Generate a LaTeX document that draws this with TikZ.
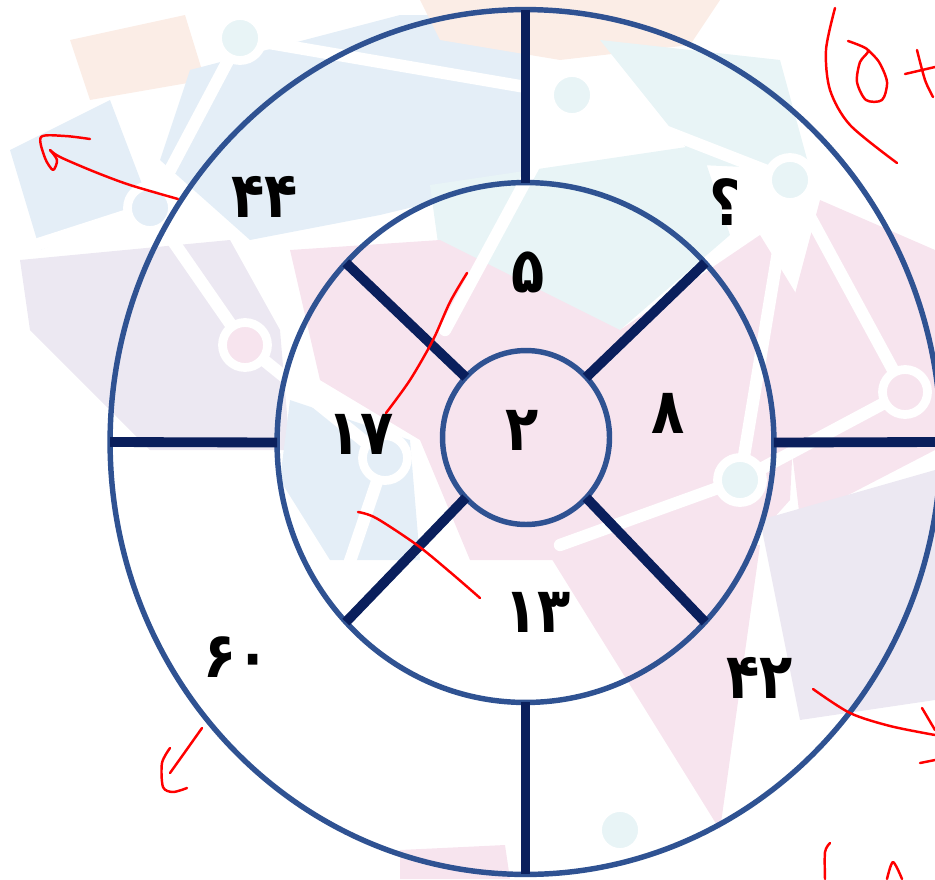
\documentclass[tikz,border=0pt]{standalone}
\usepackage{fontspec}
\newfontfamily\numfont[Script=Arabic]{DejaVu Sans}
\usetikzlibrary{shapes.geometric}
\definecolor{ringblue}{HTML}{2F5292}
\definecolor{spokenavy}{HTML}{0A1F5C}
\definecolor{wmblue}{HTML}{E4EEF7}
\definecolor{wmpink}{HTML}{F7E4EE}
\definecolor{wmlilac}{HTML}{ECE8F2}
\definecolor{wmcyan}{HTML}{E8F4F6}
\definecolor{wmpeach}{HTML}{FBEDE6}
\newcommand\narrow[1]{\scalebox{0.86}[1]{#1}}

\begin{document}
\begin{tikzpicture}[x=0.02cm, y=-0.02cm,
    ring/.style={ellipse, draw=ringblue, line width=3.1pt, inner sep=0pt, outer sep=0pt},
    spoke/.style={spokenavy, line width=5.6pt},
    digit/.style={font=\numfont\bfseries\fontsize{36}{36}\selectfont},
    pen/.style={red, line width=1.4pt, line cap=round, line join=round},
    gap/.style={white, line width=7pt, line cap=round},
    hub/.style={circle, fill=#1, draw=white, line width=5pt, minimum size=0.9cm, inner sep=0pt}]
    \useasboundingbox (0,0) rectangle (935,879);
    \clip (0,0) rectangle (935,879);

    % Faint logo behind the puzzle
    \fill[wmpeach] (70,40) -- (185,15) -- (205,80) -- (90,100) -- cycle;
    \fill[wmblue] (10,150) -- (110,100) -- (150,205) -- (40,250) -- cycle;
    \fill[wmblue] (190,70) -- (400,15) -- (525,15) -- (525,180) -- (380,215) -- (250,240) -- (160,160) -- cycle;
    \fill[wmpeach] (420,0) -- (720,0) -- (690,45) -- (560,60) -- (440,40) -- cycle;
    \fill[wmcyan] (600,40) -- (780,60) -- (810,170) -- (700,165) -- cycle;
    \fill[wmcyan] (430,185) -- (700,145) -- (730,235) -- (620,330) -- (450,330) -- cycle;
    \fill[wmlilac] (20,260) -- (230,240) -- (280,330) -- (290,450) -- (150,450) -- (30,330) -- cycle;
    \fill[wmpink] (290,250) -- (440,240) -- (620,330) -- (760,235) -- (800,300) -- (790,500) -- (700,600) -- (560,560) -- (470,560) -- (420,440) -- (320,380) -- cycle;
    \fill[wmpink] (820,200) -- (935,250) -- (935,450) -- (800,520) -- (780,350) -- cycle;
    \fill[wmblue] (290,400) -- (410,440) -- (420,560) -- (330,560) -- (280,480) -- cycle;
    \fill[wmpink] (540,540) -- (760,545) -- (720,830) -- cycle;
    \fill[wmlilac] (760,520) -- (935,470) -- (935,700) -- (800,720) -- cycle;
    \fill[wmpink] (400,850) -- (505,845) -- (510,879) -- (400,879) -- cycle;
    \draw[gap] (240,38) -- (150,208) -- (245,345) -- (385,458) -- (330,620);
    \draw[gap] (240,38) -- (572,95) -- (790,180) -- (905,392) -- (740,480) -- (560,545);
    \draw[gap] (790,180) -- (740,480);
    \draw[gap] (572,95) -- (445,330);
    \draw[gap] (150,208) -- (20,250);
    \node[hub=wmcyan] (h1) at (240,38) {};
    \node[hub=wmblue] (h2) at (150,208) {};
    \node[hub=wmpink] (h3) at (245,345) {};
    \node[hub=wmcyan] (h4) at (572,95) {};
    \node[hub=wmcyan] (h5) at (790,180) {};
    \node[hub=wmpink] (h6) at (905,392) {};
    \node[hub=wmcyan] (h7) at (740,480) {};
    \node[hub=wmblue] (h8) at (385,458) {};
    \node[hub=wmcyan] (h9) at (620,830) {};

    % Rings
    \node[ring, minimum width=16.62cm, minimum height=17.3cm] (outer) at (525.5,442) {};
    \node[ring, minimum width=9.94cm, minimum height=10.4cm] (mid) at (525.5,442.5) {};
    \node[ring, minimum width=3.34cm, minimum height=3.48cm] (inner) at (526,437.5) {};

    % Spokes
    \draw[spoke] (outer.north) -- (mid.north);
    \draw[spoke] (outer.west) -- (mid.west);
    \draw[spoke] (mid.east) -- (outer.east);
    \draw[spoke] (mid.south) -- (outer.south);
    \foreach \a in {45,135,225,315}
        \draw[spoke] (inner.\a) -- (mid.\a);

    % Numbers
    \node[digit] (n44) at (265,197) {\narrow{۴۴}};
    \node[digit] (nq) at (725,202) {\narrow{؟}};
    \node[digit] (n5) at (528,272) {\narrow{۵}};
    \node[digit] (n17) at (361,434) {\narrow{۱۷}};
    \node[digit] (n2) at (522,430) {\narrow{۲}};
    \node[digit] (n8) at (668,413) {\narrow{۸}};
    \node[digit] (n13) at (538,612) {\narrow{۱۳}};
    \node[digit] (n60) at (237,657) {\narrow{۶۰}};
    \node[digit] (n42) at (760,678) {\narrow{۴۲}};

    % Red pen marks
    \draw[pen] plot[smooth] coordinates {(835,8) (826,50) (830,90) (850,125) (897,163)};
    \draw[pen] plot[smooth] coordinates {(848,41) (868,50) (860,62) (857,82) (866,100) (882,100) (887,82) (879,62) (868,50)};
    \draw[pen] plot[smooth] coordinates {(917,50) (925,80) (933,97)};
    \draw[pen] (905,74) -- (935,67);
    \draw[pen] plot[smooth] coordinates {(178,199) (130,185) (95,172) (60,157) (50,150)};
    \draw[pen] plot[smooth] coordinates {(90,139) (65,136) (41,137) (45,158) (53,170) (57,160) (50,150)};
    \draw[pen] plot[smooth] coordinates {(467,273) (450,302) (433,340) (410,380) (386,413)};
    \draw[pen] plot[smooth] coordinates {(358,512) (376,518) (417,545) (450,572) (480,598)};
    \draw[pen] plot[smooth] coordinates {(202,728) (185,752) (170,773)};
    \draw[pen] plot[smooth] coordinates {(170,748) (162,763) (163,787) (173,792) (187,788)};
    \draw[pen] plot[smooth] coordinates {(813,689) (850,713) (890,726) (935,735)};
    \draw[pen] (922,708) -- (935,730);
    \draw[pen] (920,763) -- (935,760);
    \draw[pen] plot[smooth] coordinates {(830,843) (825,852) (825,879)};
    \draw[pen] plot[smooth] coordinates {(887,879) (893,862) (902,879)};
\end{tikzpicture}
\end{document}
